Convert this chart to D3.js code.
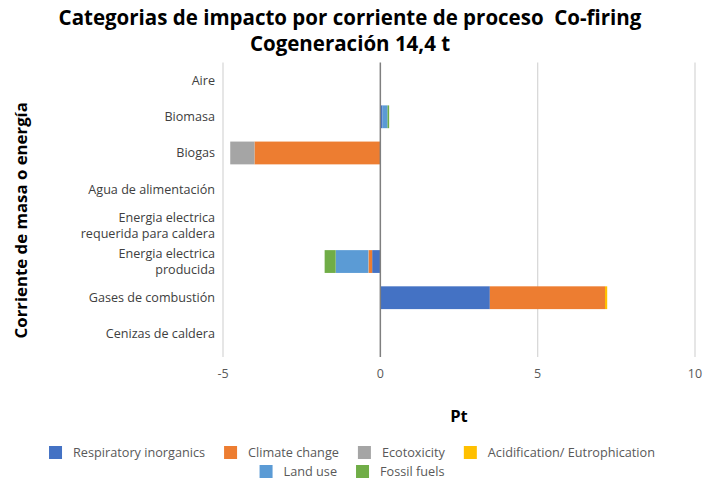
<!DOCTYPE html>
<html>
<head>
<meta charset="utf-8">
<script src="https://cdn.jsdelivr.net/npm/d3@7"></script>
<style>
  body { margin: 0; background: #fff; }
  svg { font-family: "Open Sans", sans-serif; }
</style>
</head>
<body>
<div class="canvas"></div>
<script>
// categories (top to bottom)
var categories = ['Aire', 'Biomasa', 'Biogas', 'Agua de alimentación',
  'Energia electrica\nrequerida para caldera', 'Energia electrica\nproducida',
  'Gases de combustión', 'Cenizas de caldera'];

var seriesNames = ['Respiratory inorganics', 'Climate change', 'Ecotoxicity',
  'Acidification/ Eutrophication', 'Land use', 'Fossil fuels'];
var colors = ['#4472c4', '#ed7d31', '#a5a5a5', '#ffc000', '#5b9bd5', '#70ad47'];

// values per series, one per category
var respiratory   = [0, 0.07, 0.01, 0, 0, -0.26, 3.48, 0];
var climate       = [0, 0, -4.0, 0, 0, -0.11, 3.66, 0];
var ecotoxicity   = [0, 0, -0.77, 0, 0, -0.02, 0, 0];
var acidification = [0, 0, 0, 0, 0, 0, 0.07, 0];
var landUse       = [0, 0.16, 0, 0, 0, -1.03, 0, 0];
var fossil        = [0, 0.05, 0, 0, 0, -0.35, 0, 0];
var series = [respiratory, climate, ecotoxicity, acidification, landUse, fossil];

var xTicks = [-5, 0, 5, 10];

var w = 703, h = 480;
var pLeft = 223, pRight = 695, pTop = 62.5, pBottom = 352;

var svg = d3.select('.canvas').append('svg')
  .attr('width', w).attr('height', h);

var x = d3.scaleLinear().domain([-5, 10]).range([pLeft, pRight]);
var y = d3.scaleBand().domain(categories).range([pTop, pBottom]).paddingInner(0.37).paddingOuter(0.185);

// gridlines
svg.append('g').selectAll('line')
  .data(xTicks.filter(function(d) { return d !== 0; }))
  .enter().append('line')
  .attr('x1', function(d) { return x(d); }).attr('x2', function(d) { return x(d); })
  .attr('y1', pTop).attr('y2', 357)
  .attr('stroke', '#d9d9d9').attr('stroke-width', 1.3);

// stacked bars (positive and negative stacks)
var rows = categories.map(function(c, i) {
  var pos = 0, neg = 0;
  return series.map(function(s, k) {
    var v = s[i], x0, x1;
    if (v >= 0) { x0 = pos; x1 = pos + v; pos = x1; }
    else { x1 = neg; x0 = neg + v; neg = x0; }
    return {cat: c, k: k, x0: x0, x1: x1, v: v};
  });
});

svg.append('g').selectAll('rect')
  .data(d3.merge(rows).filter(function(d) { return d.v !== 0; }))
  .enter().append('rect')
  .attr('x', function(d) { return x(d.x0); })
  .attr('width', function(d) { return x(d.x1) - x(d.x0); })
  .attr('y', function(d) { return y(d.cat); })
  .attr('height', y.bandwidth())
  .attr('fill', function(d) { return colors[d.k]; });

// zero axis line
svg.append('line')
  .attr('x1', x(0)).attr('x2', x(0))
  .attr('y1', pTop).attr('y2', 357)
  .attr('stroke', '#7f7f7f').attr('stroke-width', 1.5);

// x tick labels
svg.append('g').selectAll('text')
  .data(xTicks).enter().append('text')
  .attr('x', function(d) { return x(d); })
  .attr('y', 378)
  .attr('text-anchor', 'middle')
  .attr('font-size', 12.5)
  .attr('fill', '#595959')
  .text(function(d) { return d; });

// category labels
var cl = svg.append('g').selectAll('text')
  .data(categories).enter().append('text')
  .attr('text-anchor', 'end')
  .attr('font-size', 12.6)
  .attr('fill', '#404040');
cl.each(function(c) {
  var lines = c.split('\n');
  var t = d3.select(this);
  var cy = y(c) + y.bandwidth() / 2;
  lines.forEach(function(l, j) {
    t.append('tspan')
      .attr('x', 215)
      .attr('y', cy + 4.5 + (j - (lines.length - 1) / 2) * 15.5)
      .text(l);
  });
});

// title
svg.append('text')
  .attr('x', 350).attr('y', 25)
  .attr('text-anchor', 'middle')
  .attr('font-size', 20.5).attr('font-weight', 'bold').attr('fill', '#000')
  .text('Categorias de impacto por corriente de proceso \u00a0Co-firing');
svg.append('text')
  .attr('x', 350).attr('y', 51)
  .attr('text-anchor', 'middle')
  .attr('font-size', 20.5).attr('font-weight', 'bold').attr('fill', '#000')
  .text('Cogeneración 14,4 t');

// axis titles
svg.append('text')
  .attr('x', (pLeft + pRight) / 2).attr('y', 422)
  .attr('text-anchor', 'middle')
  .attr('font-size', 16.5).attr('font-weight', 'bold')
  .text('Pt');
svg.append('text')
  .attr('transform', 'translate(27,' + ((pTop + pBottom) / 2 + 13) + ') rotate(-90)')
  .attr('text-anchor', 'middle')
  .attr('font-size', 16.8).attr('font-weight', 'bold')
  .text('Corriente de masa o energía');

// legend
var legendRows = [[0, 1, 2, 3], [4, 5]];
legendRows.forEach(function(r, ri) {
  var g = svg.append('g');
  var items = g.selectAll('g').data(r).enter().append('g');
  items.append('rect')
    .attr('width', 13).attr('height', 13)
    .attr('y', -10)
    .attr('fill', function(k) { return colors[k]; });
  items.append('text')
    .attr('x', 24).attr('y', 1)
    .attr('font-size', 12.7).attr('fill', '#595959')
    .text(function(k) { return seriesNames[k]; });
  var xx = 0;
  items.each(function() {
    var tw = d3.select(this).select('text').node().getComputedTextLength();
    d3.select(this).attr('transform', 'translate(' + xx + ',0)');
    xx += 24 + tw + 19;
  });
  var total = xx - 19;
  g.attr('transform', 'translate(' + (352 - total / 2) + ',' + (456 + ri * 19) + ')');
});
</script>
</body>
</html>
